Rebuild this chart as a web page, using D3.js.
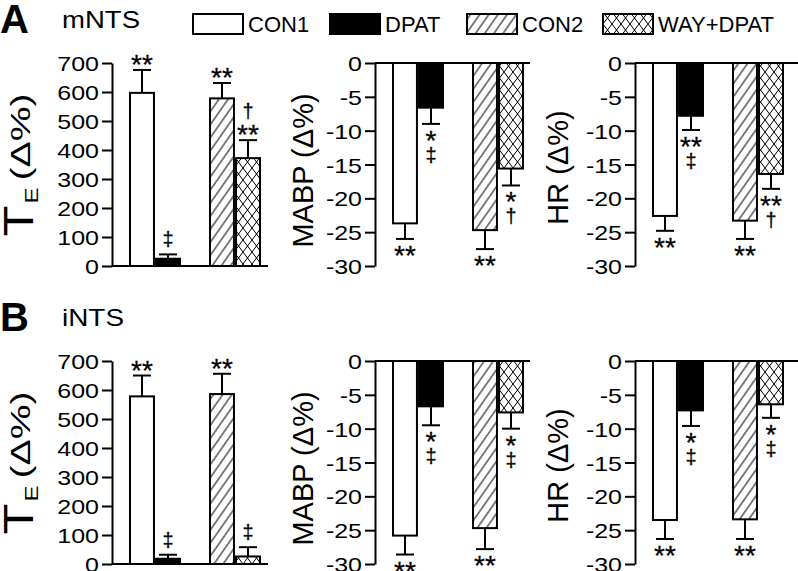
<!DOCTYPE html>
<html>
<head>
<meta charset="utf-8">
<script src="https://cdn.jsdelivr.net/npm/d3@7"></script>
<style>
  html, body { margin: 0; padding: 0; background: #fff; }
  svg { display: block; font-family: "Liberation Sans", Arial, Helvetica, sans-serif; }
</style>
</head>
<body>
<svg id="chart" width="798" height="571"></svg>
<script>
// ---------------- DATA ----------------
const series = ["CON1", "DPAT", "CON2", "WAY+DPAT"];
const pairs = ["G1", "G1", "G2", "G2"];
const subs = ["ctl", "trt", "ctl", "trt"];

// Panel A (mNTS)
const teA_mean   = [597, 25, 578, 372];
const teA_sem    = [79, 15, 53, 62];
const mabpA_mean = [-23.7, -6.6, -24.7, -15.6];
const mabpA_sem  = [2.3, 2.4, 2.8, 2.5];
const hrA_mean   = [-22.6, -7.8, -23.3, -16.4];
const hrA_sem    = [2.2, 2.1, 2.7, 2.2];

// Panel B (iNTS)
const teB_mean   = [578, 18, 586, 26];
const teB_sem    = [72, 14, 70, 32];
const mabpB_mean = [-25.8, -6.7, -24.7, -7.6];
const mabpB_sem  = [2.8, 2.8, 3.1, 2.4];
const hrB_mean   = [-23.5, -7.3, -23.4, -6.4];
const hrB_sem    = [2.8, 2.3, 2.9, 2.0];

// significance marks [stars, dagger]
const teA_stars = ["**", "", "**", "**"],   teA_dag = ["", "‡", "", "†"];
const mabpA_stars = ["**", "*", "**", "*"], mabpA_dag = ["", "‡", "", "†"];
const hrA_stars = ["**", "**", "**", "**"], hrA_dag = ["", "‡", "", "†"];
const teB_stars = ["**", "", "**", ""],     teB_dag = ["", "‡", "", "‡"];
const mabpB_stars = ["**", "*", "**", "*"], mabpB_dag = ["", "‡", "", "‡"];
const hrB_stars = ["**", "*", "**", "*"],   hrB_dag = ["", "‡", "", "‡"];

// tick values / labels
const teTicks = [0, 100, 200, 300, 400, 500, 600, 700];
const teTickLabels = ["0", "100", "200", "300", "400", "500", "600", "700"];
const negTicks = [0, -5, -10, -15, -20, -25, -30];
const negTickLabels = ["0", "-5", "-10", "-15", "-20", "-25", "-30"];

const rowLabels = ["A", "B"];
const regionLabels = ["mNTS", "iNTS"];

// ---------------- DRAW ----------------
const svg = d3.select("#chart");
const FONT = "'Liberation Sans', Arial, Helvetica, sans-serif";

const defs = svg.append("defs");
// diagonal hatch
const ph = defs.append("pattern").attr("id", "hatch")
  .attr("patternUnits", "userSpaceOnUse").attr("width", 7.5).attr("height", 10)
  .attr("patternTransform", "rotate(35)");
ph.append("rect").attr("width", 7.5).attr("height", 10).attr("fill", "#fff");
ph.append("line").attr("x1", 3.75).attr("y1", -1).attr("x2", 3.75).attr("y2", 11)
  .attr("stroke", "#000").attr("stroke-width", 1);
// cross hatch
const pc = defs.append("pattern").attr("id", "cross")
  .attr("patternUnits", "userSpaceOnUse").attr("width", 9).attr("height", 12);
pc.append("rect").attr("width", 9).attr("height", 12).attr("fill", "#fff");
pc.append("path").attr("d", "M0,0 L9,12 M9,0 L0,12").attr("stroke", "#000").attr("stroke-width", 1).attr("fill", "none");

const fills = { "CON1": "#fff", "DPAT": "#000", "CON2": "url(#hatch)", "WAY+DPAT": "url(#cross)" };

function mark(g, x, y, txt, size) {
  return g.append("text").attr("x", x).attr("y", y).attr("text-anchor", "middle")
    .attr("font-size", size).attr("font-family", FONT)
    .attr("fill", "#000").attr("stroke", "#000").attr("stroke-width", 0.3)
    .attr("opacity", 0.99).text(txt);
}

function drawPanel(cfg) {
  const g = svg.append("g");
  const y = d3.scaleLinear().domain(cfg.domain).range([cfg.yBot, cfg.yTop]);
  const xg = d3.scaleBand().domain(["G1", "G2"]).range([cfg.axisX, cfg.axisX + 166])
    .paddingInner(0.375).paddingOuter(0.225);
  const xs = d3.scaleBand().domain(["ctl", "trt"]).range([0, xg.bandwidth()]).paddingInner(0.08);
  const bw = xs.bandwidth();
  const y0 = y(0);

  series.forEach((s, i) => {
    const bx = xg(pairs[i]) + xs(subs[i]);
    const m = cfg.mean[i], e = cfg.sem[i];
    const ym = y(m);
    const sign = m >= 0 ? 1 : -1;
    const tip = y(m + sign * e);
    g.append("rect")
      .attr("x", bx).attr("y", Math.min(ym, y0))
      .attr("width", bw).attr("height", Math.abs(ym - y0))
      .attr("fill", fills[s]).attr("stroke", "#000").attr("stroke-width", 2);
    const cx = bx + bw / 2;
    g.append("line").attr("x1", cx).attr("x2", cx).attr("y1", ym).attr("y2", tip)
      .attr("stroke", "#000").attr("stroke-width", 2);
    g.append("line").attr("x1", cx - 9).attr("x2", cx + 9).attr("y1", tip).attr("y2", tip)
      .attr("stroke", "#000").attr("stroke-width", 2);
    const st = cfg.stars[i], dg = cfg.dag[i];
    if (sign > 0) {
      if (st) mark(g, cx, tip + 4, st, 28);
      if (dg) mark(g, cx, st ? tip - 22 : tip - 8, dg, 20);
    } else {
      if (st) mark(g, cx, tip + 26, st, 28);
      if (dg) mark(g, cx, st ? tip + 38 : tip + 22, dg, 20);
    }
  });

  g.append("line").attr("x1", cfg.axisX).attr("x2", cfg.xEnd).attr("y1", y0).attr("y2", y0)
    .attr("stroke", "#000").attr("stroke-width", 2);

  const ax = g.append("g").attr("transform", `translate(${cfg.axisX},0)`)
    .call(d3.axisLeft(y).tickValues(cfg.ticks).tickFormat((d, i) => cfg.tickLabels[i])
      .tickSize(10).tickSizeOuter(0).tickPadding(3));
  ax.selectAll("path, line").attr("stroke", "#000").attr("stroke-width", 2);
  ax.selectAll("text").attr("font-size", 21).attr("font-family", FONT).attr("fill", "#000")
    .attr("dy", "0.36em")
    .attr("transform", `translate(-13,0) scale(1.19,1) translate(13,0)`);

  if (cfg.te) {
    const lx = cfg.labX, cy = (cfg.yTop + cfg.yBot) / 2;
    g.append("text").attr("transform", `translate(${lx},${cy + 72}) rotate(-90)`)
      .attr("font-family", FONT).attr("font-size", 42).attr("textLength", 31)
      .attr("lengthAdjust", "spacingAndGlyphs").text("T");
    g.append("text").attr("transform", `translate(${lx + 5},${cy + 39}) rotate(-90)`)
      .attr("font-family", FONT).attr("font-size", 18).attr("textLength", 16)
      .attr("lengthAdjust", "spacingAndGlyphs").text("E");
    g.append("text").attr("transform", `translate(${lx - 3},${cy + 16}) rotate(-90)`)
      .attr("font-family", FONT).attr("font-size", 28).attr("textLength", 87)
      .attr("lengthAdjust", "spacingAndGlyphs").text("(Δ%)");
  } else {
    g.append("text")
      .attr("transform", `translate(${cfg.labX},${(cfg.yTop + cfg.yBot) / 2 + cfg.labDy}) rotate(-90)`)
      .attr("text-anchor", "middle").attr("font-family", FONT).attr("fill", "#000")
      .attr("font-size", 29).text(cfg.label);
  }
}

const rows = [
  { yTop: 63, yBot: 266,
    te: [teA_mean, teA_sem, teA_stars, teA_dag],
    mabp: [mabpA_mean, mabpA_sem, mabpA_stars, mabpA_dag],
    hr: [hrA_mean, hrA_sem, hrA_stars, hrA_dag] },
  { yTop: 361, yBot: 564,
    te: [teB_mean, teB_sem, teB_stars, teB_dag],
    mabp: [mabpB_mean, mabpB_sem, mabpB_stars, mabpB_dag],
    hr: [hrB_mean, hrB_sem, hrB_stars, hrB_dag] }
];

rows.forEach((r, ri) => {
  drawPanel({ axisX: 112, xEnd: 268, yTop: r.yTop, yBot: r.yBot, domain: [0, 700],
    ticks: teTicks, tickLabels: teTickLabels,
    mean: r.te[0], sem: r.te[1], stars: r.te[2], dag: r.te[3],
    te: true, labX: 33 });
  drawPanel({ axisX: 375, xEnd: 530, yTop: r.yTop, yBot: r.yBot, domain: [-30, 0],
    ticks: negTicks, tickLabels: negTickLabels,
    mean: r.mabp[0], sem: r.mabp[1], stars: r.mabp[2], dag: r.mabp[3],
    label: "MABP (Δ%)", labX: 313, labDy: 6 });
  drawPanel({ axisX: 635, xEnd: 798, yTop: r.yTop, yBot: r.yBot, domain: [-30, 0],
    ticks: negTicks, tickLabels: negTickLabels,
    mean: r.hr[0], sem: r.hr[1], stars: r.hr[2], dag: r.hr[3],
    label: "HR (Δ%)", labX: 568, labDy: 3 });

  svg.append("text").attr("x", 0).attr("y", r.yTop - 30).attr("font-size", 40)
    .attr("font-weight", "bold").attr("font-family", FONT).text(rowLabels[ri]);
  svg.append("text").attr("x", 62).attr("y", r.yTop - 35).attr("font-size", 24)
    .attr("font-family", FONT).attr("textLength", ri === 0 ? 78 : 62)
    .attr("lengthAdjust", "spacingAndGlyphs").text(regionLabels[ri]);
});

// legend
const legX = [193, 330, 467, 603];
series.forEach((s, i) => {
  svg.append("rect").attr("x", legX[i]).attr("y", 14).attr("width", 50).attr("height", 20)
    .attr("fill", fills[s]).attr("stroke", "#000").attr("stroke-width", 2);
  svg.append("text").attr("x", legX[i] + 55).attr("y", 32).attr("font-size", 22)
    .attr("font-family", FONT).text(s);
});
</script>
</body>
</html>
